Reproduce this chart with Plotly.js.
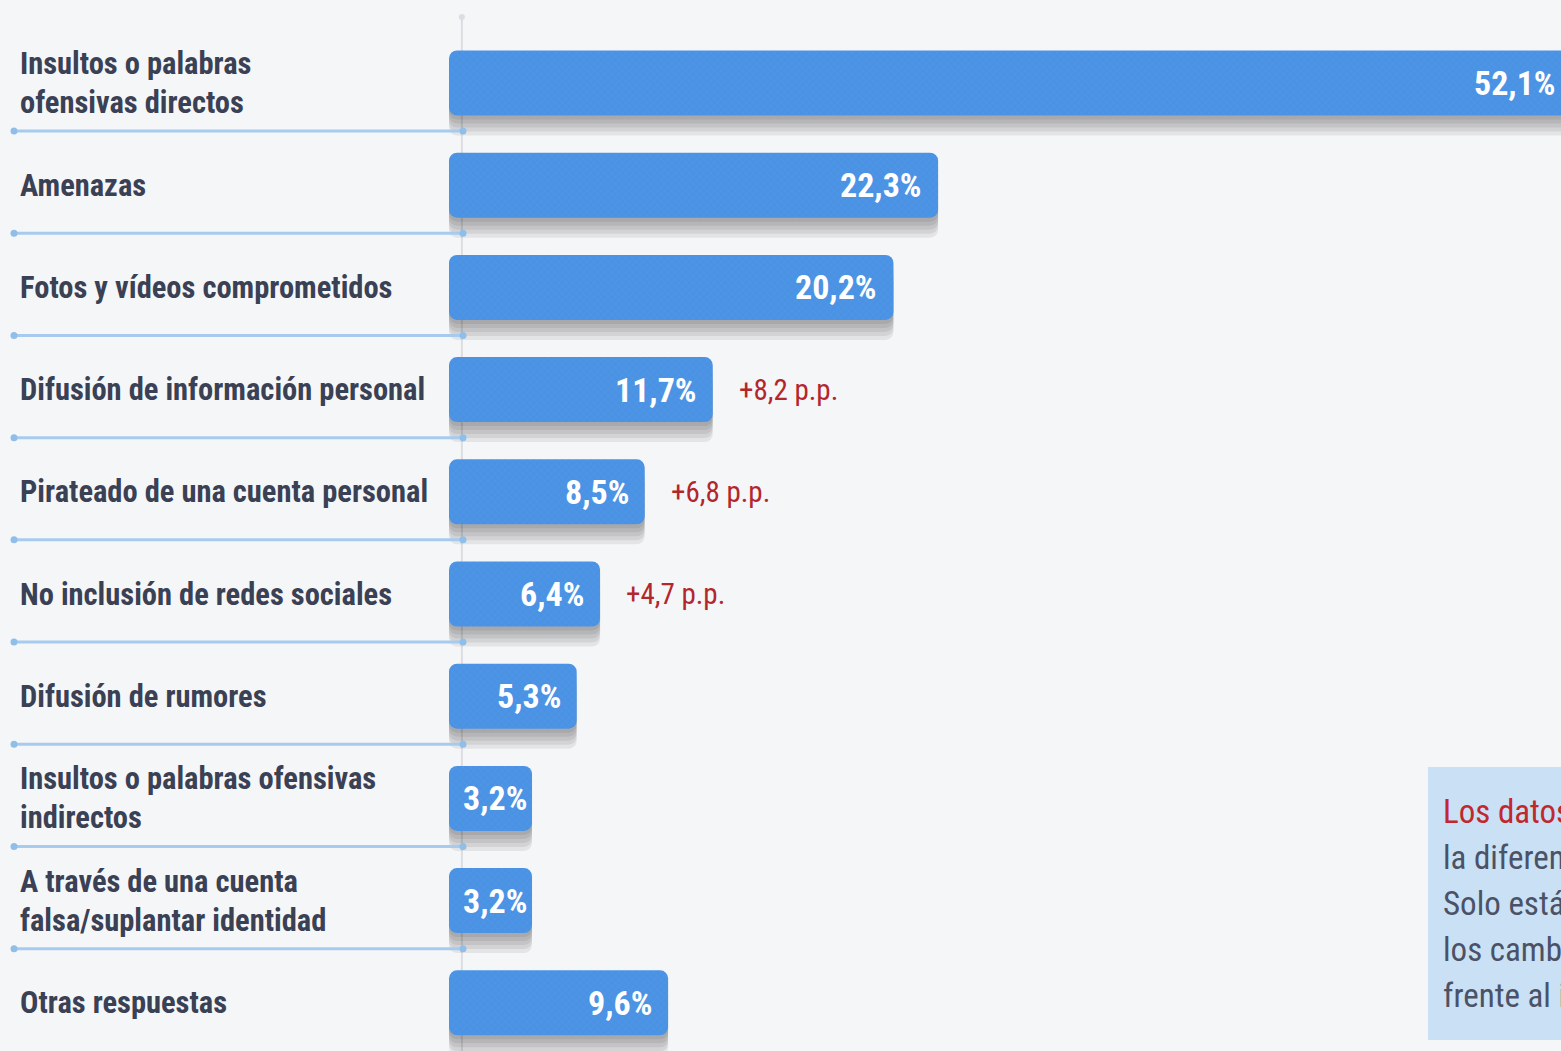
<!DOCTYPE html>
<html>
<head>
<meta charset="utf-8">
<script src="https://cdn.plot.ly/plotly-3.0.1.min.js"></script>
<style>
  html, body { margin: 0; padding: 0; background: #f5f6f8; }
  #chart { width: 1561px; height: 1051px; }
</style>
</head>
<body>
<div id="chart"></div>
<script>
// ---- data ----
const categories = [
  "Insultos o palabras<br>ofensivas directos",
  "Amenazas",
  "Fotos y vídeos comprometidos",
  "Difusión de información personal",
  "Pirateado de una cuenta personal",
  "No inclusión de redes sociales",
  "Difusión de rumores",
  "Insultos o palabras ofensivas<br>indirectos",
  "A través de una cuenta<br>falsa/suplantar identidad",
  "Otras respuestas"
];
const values = [52.1, 22.3, 20.2, 11.7, 8.5, 6.4, 5.3, 3.2, 3.2, 9.6];
const valueLabels = ["52,1%", "22,3%", "20,2%", "11,7%", "8,5%", "6,4%", "5,3%", "3,2%", "3,2%", "9,6%"];
const changeLabels = ["", "", "", "+8,2 p.p.", "+6,8 p.p.", "+4,7 p.p.", "", "", "", ""];
const noteLines = [
  "Los datos en rojo señalan",
  "la diferencia en puntos porcentuales.",
  "Solo están señalados",
  "los cambios significativos",
  "frente al informe anterior."
];

// ---- geometry / style ----
const W = 1561, H = 1051;
const pxPerUnit = 21.26;
const zeroPx = 464;
const x0 = -zeroPx / pxPerUnit;
const x1 = x0 + W / pxPerUnit;
const toPaperX = v => (v - x0) / (x1 - x0);
const pad = 15 / pxPerUnit;          // rounded bar starts a little left of zero
const rowPx = 102.2, firstCenterPx = 83;
const yTop = -firstCenterPx / rowPx;
const yBottom = (H - firstCenterPx) / rowPx;
const barW = 0.636;
const BLUE = "#4a92e4";
const NARROW = "'Roboto Condensed', 'Liberation Sans Narrow', 'DejaVu Sans Condensed', sans-serif";

const barX = values.map(v => v + pad);
const barBase = values.map(() => -pad);

const traces = [];
// soft shadows under each bar (stacked translucent copies -> gradient)
[4, 8, 12, 16, 20].forEach(s => {
  traces.push({
    type: "bar", orientation: "h",
    y: categories, x: barX, base: barBase,
    width: barW, offset: -barW / 2 + s / rowPx,
    marker: { color: "rgba(0,0,0,0.07)", cornerradius: 8, line: { width: 0 } },
    hoverinfo: "skip", showlegend: false
  });
});
traces.push({
  type: "bar", orientation: "h",
  y: categories, x: barX, base: barBase,
  width: barW,
  marker: {
    color: BLUE, cornerradius: 8, line: { width: 0 },
    pattern: { shape: "x", fgcolor: "rgba(255,255,255,0.10)", size: 5, solidity: 0.25, fillmode: "overlay" }
  },
  hoverinfo: "skip", showlegend: false
});

const annotations = [];
categories.forEach((c, i) => {
  const lines = c.split("<br>");
  lines.forEach((ln, k) => {
    annotations.push({
      xref: "paper", x: 18 / W, xanchor: "left",
      yref: "y", y: c, yanchor: "middle",
      yshift: -(k - (lines.length - 1) / 2) * 39,
      text: ln, showarrow: false, align: "left",
      font: { family: NARROW, size: 30.5, color: "#3a4154", weight: "bold" }
    });
  });
  const small = values[i] < 4;
  annotations.push({
    xref: "paper", x: small ? toPaperX(-pad) : toPaperX(values[i]),
    xanchor: small ? "left" : "right", xshift: small ? 12 : -14,
    yref: "y", y: c, yanchor: "middle",
    text: valueLabels[i], showarrow: false,
    font: { family: NARROW, size: 34, color: "#ffffff", weight: "bold" }
  });
  if (changeLabels[i]) {
    annotations.push({
      xref: "paper", x: toPaperX(values[i]), xanchor: "left", xshift: 24,
      yref: "y", y: c, yanchor: "middle",
      text: changeLabels[i], showarrow: false,
      font: { family: NARROW, size: 29, color: "#b3262c" }
    });
  }
});
noteLines.forEach((t, k) => {
  annotations.push({
    xref: "paper", x: 1441 / W, xanchor: "left",
    yref: "paper", y: 1 - (811 + k * 46) / H, yanchor: "middle",
    text: t, showarrow: false, align: "left",
    font: { family: NARROW, size: 33, color: k === 0 ? "#c0282d" : "#4b5266" }
  });
});

const shapes = [];
// vertical zero line
shapes.push({ type: "line", layer: "below", xref: "x", x0: -0.1, x1: -0.1, yref: "paper", y0: 1 - 15 / H, y1: 0,
  line: { color: "#dadde2", width: 2 } });
shapes.push({ type: "circle", layer: "below", xref: "x", xsizemode: "pixel", xanchor: -0.1, x0: -3, x1: 3,
  yref: "paper", ysizemode: "pixel", yanchor: 1 - 17 / H, y0: -3, y1: 3,
  fillcolor: "#dadde2", line: { width: 0 } });
// separators between rows
for (let i = 0; i < categories.length - 1; i++) {
  const yy = i + 0.47;
  shapes.push({ type: "line", layer: "above", xref: "paper", x0: 14 / W, x1: 463 / W, yref: "y", y0: yy, y1: yy,
    line: { color: "#a6cbee", width: 3 } });
  [14 / W, 463 / W].forEach(xp => {
    shapes.push({ type: "circle", layer: "above", xref: "paper", xsizemode: "pixel", xanchor: xp, x0: -3.5, x1: 3.5,
      yref: "y", ysizemode: "pixel", yanchor: yy, y0: -3.5, y1: 3.5,
      fillcolor: "#8fbfe9", line: { width: 0 } });
  });
}
// note box
shapes.push({ type: "rect", layer: "below", xref: "paper", x0: 1428 / W, x1: 1.02, yref: "paper", y0: 1 - 767 / H, y1: 1 - 1040 / H,
  fillcolor: "#c9e0f5", line: { width: 0 } });

const layout = {
  width: W, height: H,
  margin: { l: 0, r: 0, t: 0, b: 0 },
  paper_bgcolor: "#f5f6f8", plot_bgcolor: "#f5f6f8",
  barmode: "overlay",
  showlegend: false,
  xaxis: { range: [x0, x1], visible: false, fixedrange: true },
  yaxis: { type: "category", categoryarray: categories, range: [yBottom, yTop], visible: false, fixedrange: true },
  annotations: annotations,
  shapes: shapes
};

Plotly.newPlot("chart", traces, layout, { displayModeBar: false, staticPlot: true });
</script>
</body>
</html>
